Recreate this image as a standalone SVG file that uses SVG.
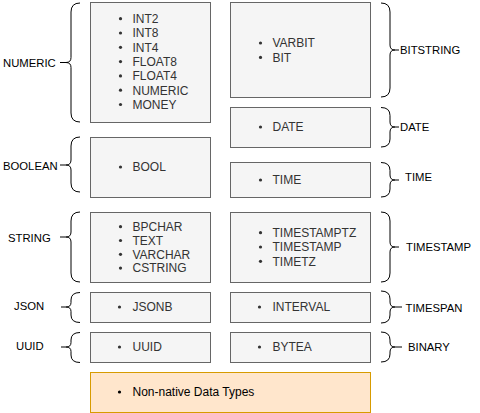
<svg xmlns="http://www.w3.org/2000/svg" width="480" height="413" viewBox="0 0 480 413">
<style>
.box{fill:#f5f5f5;stroke:#666666;stroke-width:1}
.nn{fill:#ffe6cc;stroke:#d79b00;stroke-width:1}
.br{fill:none;stroke:#000000;stroke-width:1}
text{font-family:"Liberation Sans",Arial,sans-serif;font-size:12px}
.it{fill:#333333}
.lb{fill:#000000}
.cat{font-size:11.3px}
.bul{fill:#333333}
</style>
<defs></defs>
<rect width="480" height="413" fill="#ffffff"/>

<!-- left column boxes -->
<g id="numeric-box">
<rect class="box" x="90.5" y="2.5" width="120" height="120"/>
<g class="bul"><circle cx="120.5" cy="18.7" r="1.6"/><circle cx="120.5" cy="33" r="1.6"/><circle cx="120.5" cy="47.3" r="1.6"/><circle cx="120.5" cy="61.6" r="1.6"/><circle cx="120.5" cy="75.9" r="1.6"/><circle cx="120.5" cy="90.2" r="1.6"/><circle cx="120.5" cy="104.5" r="1.6"/></g>
<text class="it" x="132.5" y="23">INT2</text>
<text class="it" x="132.5" y="37.3">INT8</text>
<text class="it" x="132.5" y="51.6">INT4</text>
<text class="it" x="132.5" y="65.9">FLOAT8</text>
<text class="it" x="132.5" y="80.2">FLOAT4</text>
<text class="it" x="132.5" y="94.5">NUMERIC</text>
<text class="it" x="132.5" y="108.8">MONEY</text>
</g>
<g id="boolean-box">
<rect class="box" x="90.5" y="137.5" width="120" height="60"/>
<circle class="bul" cx="120.5" cy="167" r="1.6"/>
<text class="it" x="132.5" y="171.3">BOOL</text>
</g>
<g id="string-box">
<rect class="box" x="90.5" y="212.5" width="120" height="70"/>
<g class="bul"><circle cx="120.5" cy="226.7" r="1.6"/><circle cx="120.5" cy="240.5" r="1.6"/><circle cx="120.5" cy="254.3" r="1.6"/><circle cx="120.5" cy="268.1" r="1.6"/></g>
<text class="it" x="132.5" y="231">BPCHAR</text>
<text class="it" x="132.5" y="244.8">TEXT</text>
<text class="it" x="132.5" y="258.6">VARCHAR</text>
<text class="it" x="132.5" y="272.4">CSTRING</text>
</g>
<g id="json-box">
<rect class="box" x="90.5" y="292.5" width="120" height="30"/>
<circle class="bul" cx="119.5" cy="307" r="1.6"/>
<text class="it" x="132.5" y="311.3">JSONB</text>
</g>
<g id="uuid-box">
<rect class="box" x="90.5" y="332.5" width="120" height="30"/>
<circle class="bul" cx="119.5" cy="347" r="1.6"/>
<text class="it" x="132.5" y="351.3">UUID</text>
</g>

<!-- right column boxes -->
<g id="bitstring-box">
<rect class="box" x="230.5" y="2.5" width="140" height="95"/>
<g class="bul"><circle cx="260.5" cy="43" r="1.6"/><circle cx="260.5" cy="57.4" r="1.6"/></g>
<text class="it" x="272.5" y="47.3">VARBIT</text>
<text class="it" x="272.5" y="61.7">BIT</text>
</g>
<g id="date-box">
<rect class="box" x="230.5" y="107.5" width="140" height="40"/>
<circle class="bul" cx="260.5" cy="127" r="1.6"/>
<text class="it" x="272.5" y="131.3">DATE</text>
</g>
<g id="time-box">
<rect class="box" x="230.5" y="162.5" width="140" height="35"/>
<circle class="bul" cx="260.5" cy="180" r="1.6"/>
<text class="it" x="272.5" y="184.3">TIME</text>
</g>
<g id="timestamp-box">
<rect class="box" x="230.5" y="212.5" width="140" height="70"/>
<g class="bul"><circle cx="260.5" cy="232.7" r="1.6"/><circle cx="260.5" cy="247" r="1.6"/><circle cx="260.5" cy="261.3" r="1.6"/></g>
<text class="it" x="272.5" y="237">TIMESTAMPTZ</text>
<text class="it" x="272.5" y="251.3">TIMESTAMP</text>
<text class="it" x="272.5" y="265.6">TIMETZ</text>
</g>
<g id="timespan-box">
<rect class="box" x="230.5" y="292.5" width="140" height="30"/>
<circle class="bul" cx="259.5" cy="307" r="1.6"/>
<text class="it" x="272.5" y="311.3">INTERVAL</text>
</g>
<g id="binary-box">
<rect class="box" x="230.5" y="332.5" width="140" height="30"/>
<circle class="bul" cx="259.5" cy="347" r="1.6"/>
<text class="it" x="272.5" y="351.3">BYTEA</text>
</g>

<g id="nonnative-box">
<rect class="nn" x="90.5" y="372.5" width="280" height="40"/>
<circle fill="#000000" cx="119.5" cy="392" r="1.6"/>
<text class="lb" x="132.5" y="396.3">Non-native Data Types</text>
</g>

<!-- left braces with labels -->
<g id="numeric-label">
<path class="br" d="M80,3 Q71,3 71,12 L71,57.5 Q71,62.5 66,62.5 Q71,62.5 71,67.5 L71,113 Q71,122 80,122 M60,62.5 L66,62.5"/>
<text class="lb cat" x="3" y="66.5">NUMERIC</text>
</g>
<g id="boolean-label">
<path class="br" d="M80,137 Q71,137 71,146 L71,160 Q71,165 66,165 Q71,165 71,170 L71,183 Q71,192 80,192 M60,165 L66,165"/>
<text class="lb cat" x="3" y="170">BOOLEAN</text>
</g>
<g id="string-label">
<path class="br" d="M80,212 Q71,212 71,221 L71,232 Q71,237 66,237 Q71,237 71,242 L71,273 Q71,282 80,282 M60,237 L66,237"/>
<text class="lb cat" x="8" y="241.5">STRING</text>
</g>
<g id="json-label">
<path class="br" d="M80,292.5 Q71,292.5 71,300 L71,302.5 Q71,307 66,307 Q71,307 71,311.5 L71,315 Q71,322.5 80,322.5 M61,307 L66,307"/>
<text class="lb cat" x="14" y="310">JSON</text>
</g>
<g id="uuid-label">
<path class="br" d="M80,332.5 Q71,332.5 71,340 L71,342.5 Q71,347 66,347 Q71,347 71,351.5 L71,355 Q71,362.5 80,362.5 M61,347 L66,347"/>
<text class="lb cat" x="16" y="350">UUID</text>
</g>

<!-- right braces with labels -->
<g id="bitstring-label">
<path class="br" d="M381,3 Q390,3 390,12 L390,45 Q390,50 395,50 Q390,50 390,55 L390,88 Q390,97 381,97 M395,50 L399,50"/>
<text class="lb cat" x="400" y="53.5">BITSTRING</text>
</g>
<g id="date-label">
<path class="br" d="M381,107.5 Q390,107.5 390,115.5 L390,122 Q390,127 395,127 Q390,127 390,132 L390,139 Q390,147 381,147 M395,127 L399,127"/>
<text class="lb cat" x="400" y="131">DATE</text>
</g>
<g id="time-label">
<path class="br" d="M381,162.5 Q390,162.5 390,170.5 L390,175 Q390,180 395,180 Q390,180 390,185 L390,189 Q390,197 381,197 M395,180 L399,180"/>
<text class="lb cat" x="405" y="181">TIME</text>
</g>
<g id="timestamp-label">
<path class="br" d="M381,212 Q390,212 390,221 L390,242 Q390,247 395,247 Q390,247 390,252 L390,273 Q390,282 381,282 M395,247 L399,247"/>
<text class="lb cat" x="406" y="251">TIMESTAMP</text>
</g>
<g id="timespan-label">
<path class="br" d="M381,291 Q390,291 390,299 L390,302 Q390,307 395,307 Q390,307 390,312 L390,315 Q390,323 381,323 M395,307 L402,307"/>
<text class="lb cat" x="405.5" y="311.5">TIMESPAN</text>
</g>
<g id="binary-label">
<path class="br" d="M381,332 Q390,332 390,340 L390,342 Q390,347 395,347 Q390,347 390,352 L390,354 Q390,362 381,362 M395,347 L402,347"/>
<text class="lb cat" x="408" y="351">BINARY</text>
</g>

<g id="connectors"></g>
</svg>
